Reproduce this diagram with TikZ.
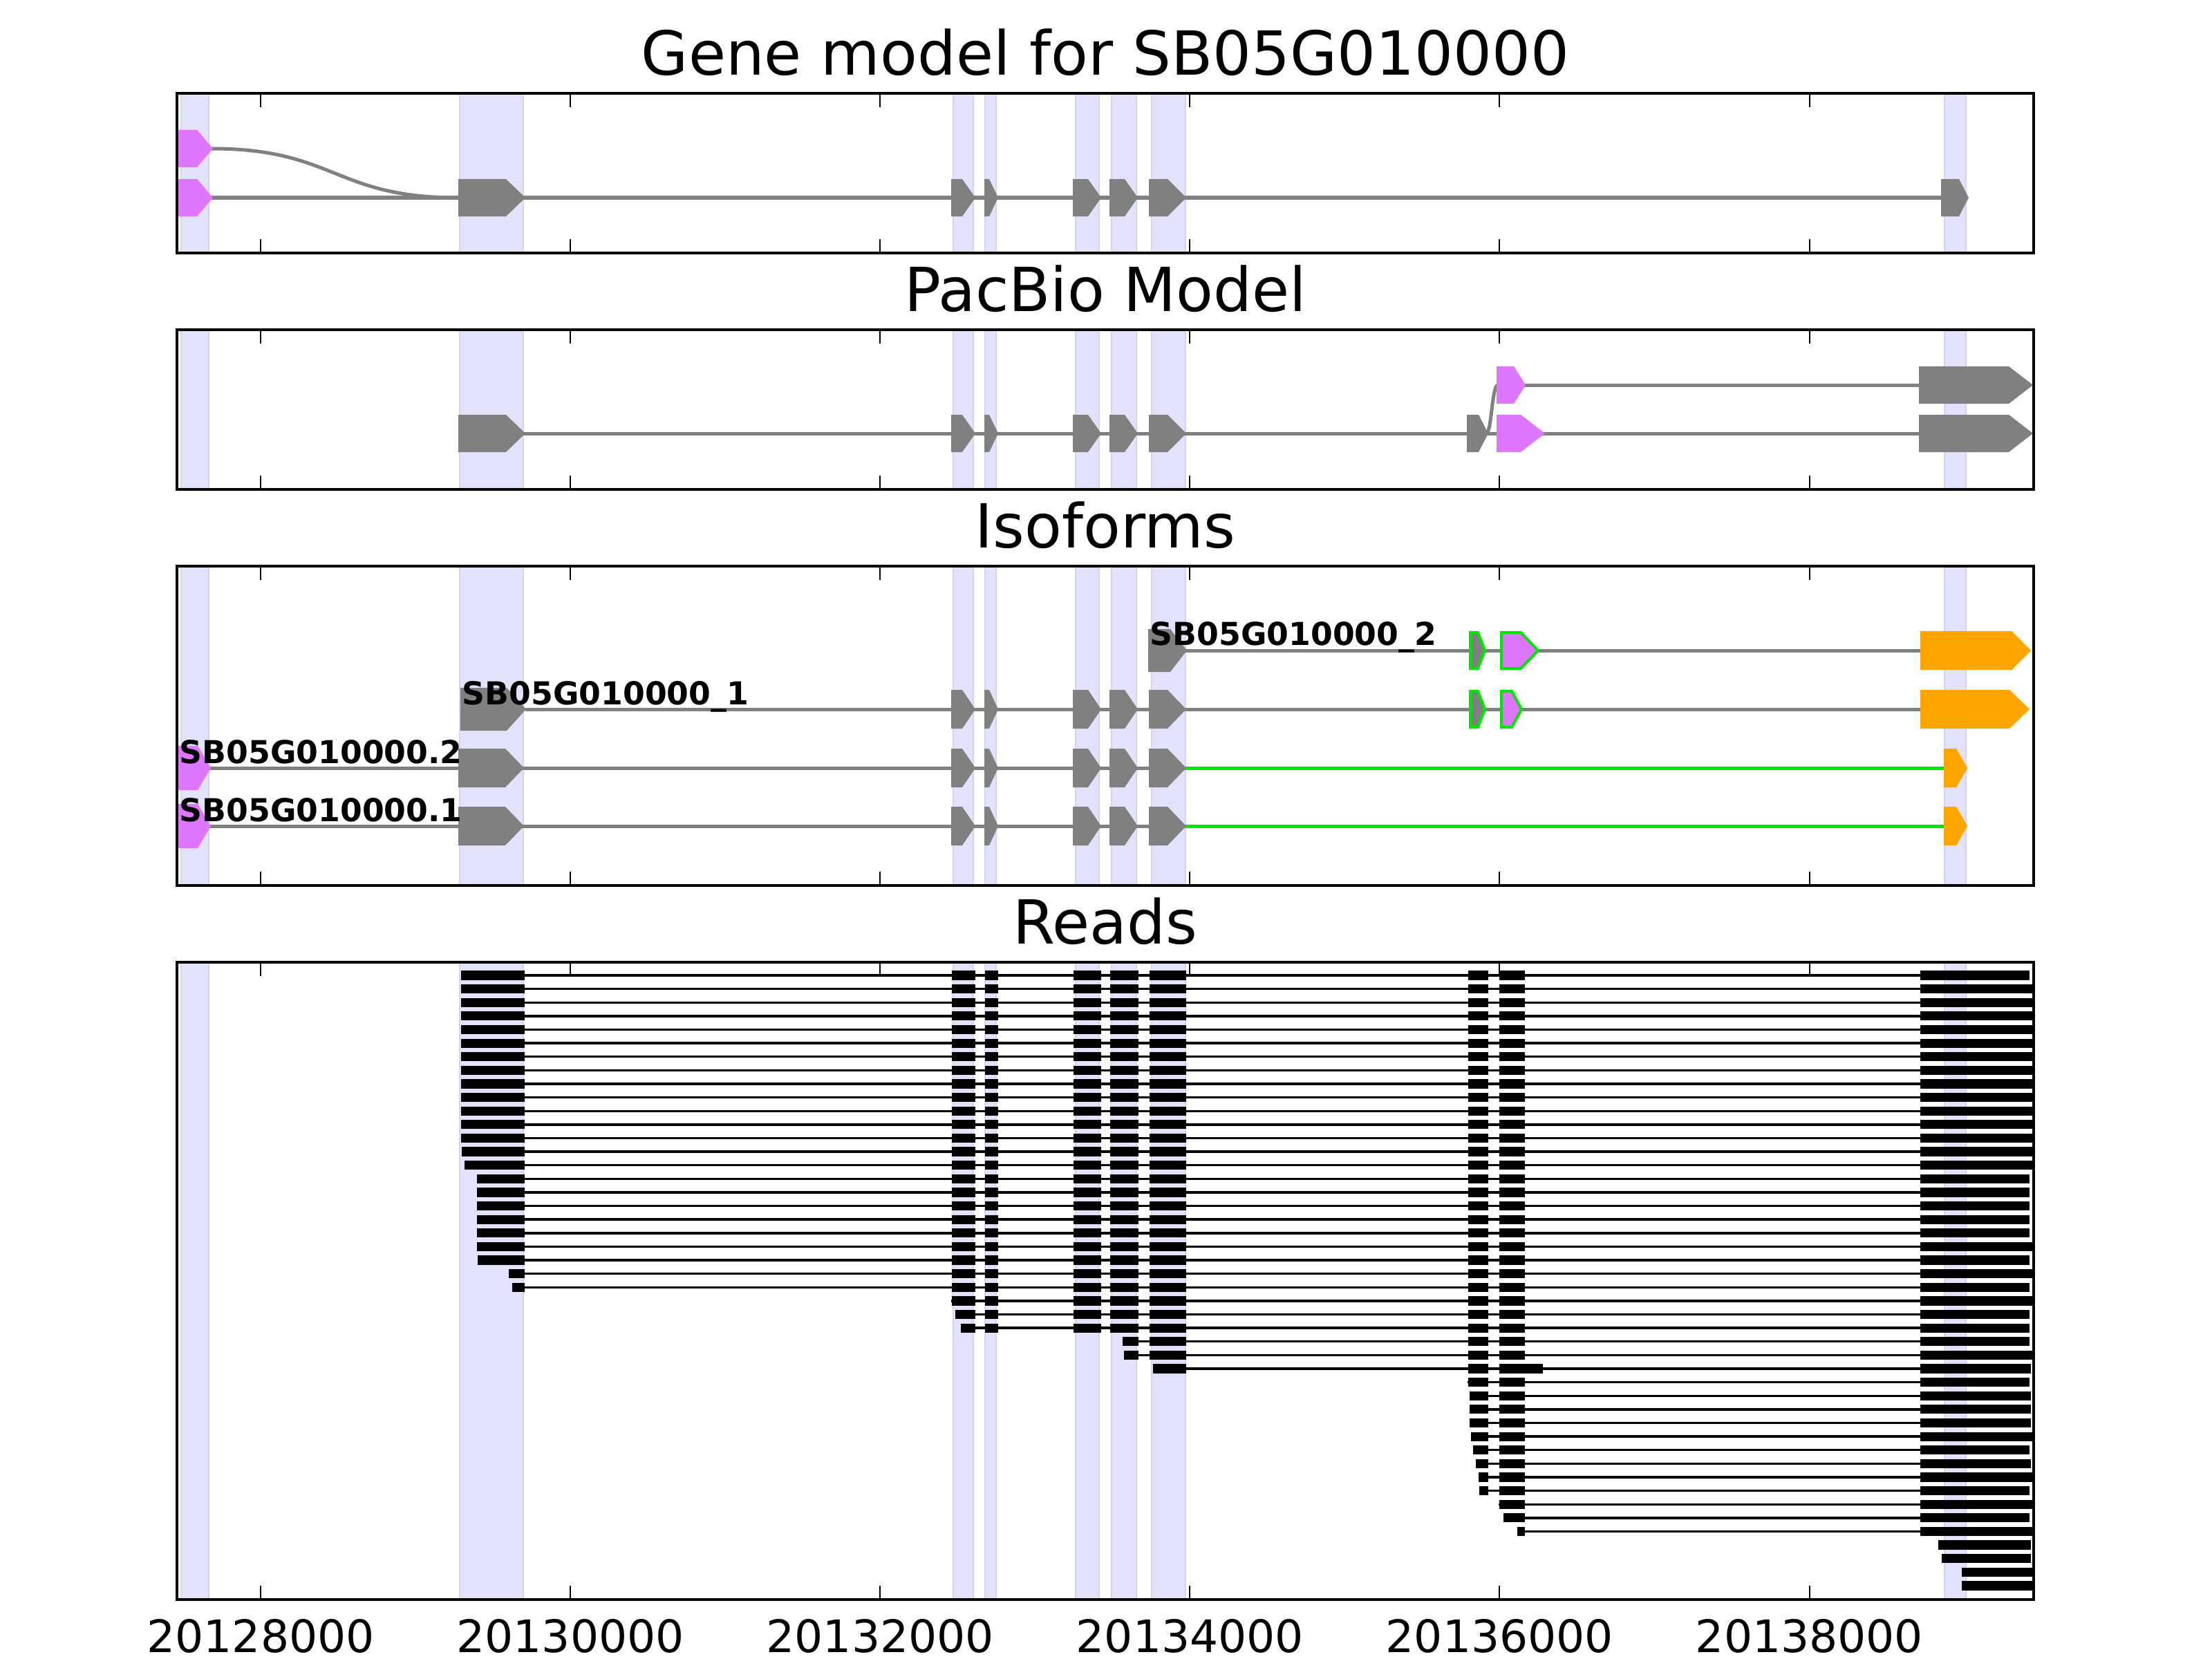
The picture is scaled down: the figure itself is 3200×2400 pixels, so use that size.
\documentclass[tikz,border=0pt]{standalone}
\usepackage{fontspec}
\setmainfont{DejaVu Sans}
\definecolor{exgray}{RGB}{128,128,128}
\definecolor{exviolet}{RGB}{221,119,255}
\definecolor{exorange}{RGB}{255,165,0}
\definecolor{exgreen}{RGB}{0,230,0}
\definecolor{bandfill}{RGB}{226,226,252}
\definecolor{bandedge}{RGB}{212,212,238}
\tikzset{
  intron/.style={exgray,line width=0.05cm},
  greenline/.style={exgreen,line width=0.05cm},
  gex/.style={fill=exgray},
  vex/.style={fill=exviolet},
  oex/.style={fill=exorange},
  hit/.style={draw=exgreen,line width=0.04cm},
  band/.style={fill=bandfill,draw=bandedge,line width=0.02cm},
  frame/.style={line width=0.04cm},
  tickmark/.style={line width=0.02cm},
  readline/.style={line width=0.034cm},
  ptitle/.style={anchor=base,inner sep=0pt,font=\fontsize{25}{30}\selectfont},
  isolabel/.style={anchor=base west,inner sep=0pt,font=\fontsize{13}{15}\selectfont\bfseries},
  ticklabel/.style={anchor=base,inner sep=0pt,font=\fontsize{18.4}{22}\selectfont}
}
% exon arrow: style, y, half height, left, flat end, tip
\newcommand{\exon}[6]{%
  \path[#1] (#4,#2-#3) -- (#5,#2-#3) -- (#6,#2) -- (#5,#2+#3) -- (#4,#2+#3) -- cycle;}
% one read: row, start, end
\newcommand{\readrow}[3]{%
  \pgfmathsetmacro{\ry}{1411+19.62*#1}%
  \draw[readline] (#2,\ry) -- (#3,\ry);
  \foreach \ea/\eb in {666/758.7,1376.7/1411,1425/1444,1553.3/1592.7,1606/1646.7,1663.3/1716,2124/2152.7,2169/2205.7,2778.3/2960}{%
    \pgfmathsetmacro{\xa}{max(\ea,#2)}%
    \pgfmathsetmacro{\xb}{min(\eb,#3)}%
    \pgfmathtruncatemacro{\ok}{\xb>\xa}%
    \ifnum\ok>0 \fill (\xa,\ry-6.6) rectangle (\xb,\ry+6.6);\fi
  }%
}
\begin{document}
\begin{tikzpicture}[x=0.01cm,y=-0.01cm]
\useasboundingbox (0,0) rectangle (3200,2400);
% exon bands
\foreach \pt/\pb in {134.7/365.7,476.7/707.7,818.7/1280.7,1391.7/2313.5}{
  \foreach \l/\r in {262/302,665/757,1379/1408,1425/1441,1556/1590,1608/1644,1666/1715,2813/2844}
    \draw[band] (\l,\pt) rectangle (\r,\pb);
}
\node[ptitle] (t1) at (1599,108.3) {Gene model for SB05G010000};
\node[ptitle] (t2) at (1599,450) {PacBio Model};
\node[ptitle] (t3) at (1599,792) {Isoforms};
\node[ptitle] (t4) at (1599,1365) {Reads};

% gene model
\draw[intron] (306,215) .. controls (484,215) and (484,286) .. (662,286);
\draw[intron] (306,286) -- (2810,286);
\exon{vex}{215}{27}{258}{285}{308}
\exon{vex}{286}{27}{258}{285}{308}
\foreach \xa/\xb/\xc in {663/732/760,1376/1392/1411,1424/1431/1444,1552/1574/1593,1605/1627/1646,1662/1689/1716,2808/2834/2848}{
  \exon{gex}{286}{27}{\xa}{\xb}{\xc}}

% pacbio
\draw[intron] (758,627) -- (2778,627);
\draw[intron] (2205,557) -- (2778,557);
\draw[intron] (2150,627) .. controls (2158,627) and (2158,557) .. (2167,557);
\foreach \xa/\xb/\xc in {663/732/760,1376/1392/1411,1424/1431/1444,1552/1574/1593,1605/1627/1646,1662/1689/1716,2122/2139/2153}{
  \exon{gex}{627}{27}{\xa}{\xb}{\xc}}
\exon{vex}{627}{27}{2165}{2200}{2235}
\exon{vex}{557}{27}{2165}{2190}{2207}
\exon{gex}{627}{27}{2776}{2906}{2941}
\exon{gex}{557}{27}{2776}{2906}{2941}

% isoforms
\draw[intron] (1715,941) -- (2780,941);
\exon{gex}{941}{31}{1661}{1693}{1717}
\exon{gex,hit}{941}{26}{2127}{2138}{2148}
\exon{vex,hit}{941}{26}{2172}{2200}{2225}
\exon{oex}{941}{28}{2778}{2910}{2938}
\draw[intron] (760,1026) -- (2780,1026);
\exon{gex}{1026}{31}{666}{733}{761}
\foreach \xa/\xb/\xc in {1376/1392/1411,1424/1431/1444,1552/1574/1593,1605/1627/1646,1662/1689/1716}{
  \exon{gex}{1026}{28}{\xa}{\xb}{\xc}}
\exon{gex,hit}{1026}{26}{2127}{2138}{2148}
\exon{vex,hit}{1026}{26}{2172}{2187}{2201}
\exon{oex}{1026}{28}{2778}{2907}{2936}
\foreach \yy in {1111,1195}{
  \draw[intron] (300,\yy) -- (1700,\yy);
  \draw[greenline] (1713,\yy) -- (2814,\yy);
  \exon{vex}{\yy}{32}{258}{286}{305}
  \foreach \xa/\xb/\xc in {663/731/758,1376/1392/1411,1424/1431/1444,1552/1574/1593,1605/1627/1646,1662/1689/1716}{
    \exon{gex}{\yy}{28}{\xa}{\xb}{\xc}}
  \exon{oex}{\yy}{28}{2812}{2830}{2846}
}
\node[isolabel] (iso2) at (1663,933) {SB05G010000\_2};
\node[isolabel] (iso1) at (668,1019) {SB05G010000\_1};
\node[isolabel] (gm2) at (259,1104) {SB05G010000.2};
\node[isolabel] (gm1) at (259,1188) {SB05G010000.1};

% reads
\foreach \i/\s/\e in {0/666.7/2935.7,1/666.7/2940,2/666.7/2941.5,3/666.7/2941.5,4/666.7/2941.5,
  5/666.7/2941.5,6/666.7/2941.5,7/666.7/2941.5,8/666.7/2941.5,9/666.7/2941.5,10/666.7/2941.5,
  11/666.7/2941.5,12/666.7/2941.5,13/668.3/2941.5,14/672/2941.5,15/690/2935.7,16/690/2935.7,
  17/690/2935.7,18/690/2935.7,19/690/2935.7,20/690/2941.5,21/691/2935.7,22/736/2941.5,
  23/741.3/2935.7,24/1376/2941.5,25/1382/2935.7,26/1390/2935.7,27/1624/2935.7,28/1626/2941.5,
  29/1668/2937.7,30/2123/2935.7,31/2126/2937.7,32/2126/2937.7,33/2126/2937.7,34/2128.3/2941.5,
  35/2130.7/2935.7,36/2135/2937.7,37/2139.3/2941.5,38/2140.3/2935.7,39/2168.3/2941.5,
  40/2175.3/2935.7,41/2195.3/2941.5,42/2804/2937.7,43/2809/2937.7,44/2838/2941.5,45/2838/2941.5}{
  \readrow{\i}{\s}{\e}}
\fill (2169,1980-6.6) rectangle (2231.6,1980+6.6);

% axes frames and ticks
\foreach \pt/\pb in {134.7/365.7,476.7/707.7,818.7/1280.7,1391.7/2313.5}{
  \draw[frame] (256,\pt) rectangle (2942,\pb);
  \foreach \tx in {377.2,825.2,1273.3,1721.4,2169.4,2617.5}{
    \draw[tickmark] (\tx,\pt) -- ++(0,20);
    \draw[tickmark] (\tx,\pb) -- ++(0,-20);
  }
}
\foreach \tx/\lab in {377.2/20128000,825.2/20130000,1273.3/20132000,1721.4/20134000,2169.4/20136000,2617.5/20138000}{
  \node[ticklabel] (tl\lab) at (\tx,2390) {\lab};}
\end{tikzpicture}
\end{document}
